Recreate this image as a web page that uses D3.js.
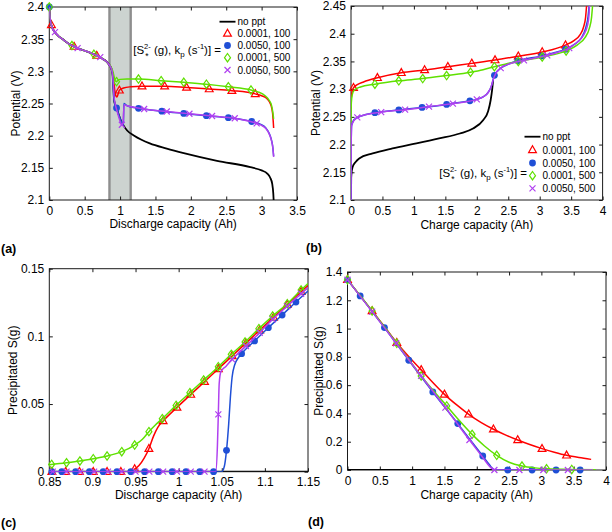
<!DOCTYPE html>
<html><head><meta charset="utf-8">
<script src="https://cdn.jsdelivr.net/npm/d3@7"></script>
<style>
body{margin:0;background:#fff}
text{font-family:"Liberation Sans",Arial,Helvetica,sans-serif;fill:#000}
</style>
</head><body>
<svg id="chart" width="612" height="532" xmlns="http://www.w3.org/2000/svg"></svg>
<script>
// ---------------- DATA ----------------
const legendLabels = ["no ppt", "0.0001, 100", "0.0050, 100", "0.0001, 500", "0.0050, 500"];
const seriesColors = ["#000000", "#ff0000", "#1f4fd6", "#5fe000", "#b040f0"];
const seriesShapes = [null, "tri", "dot", "dia", "x"];

// Panel (a) discharge potential
const aXTicks = [0, 0.5, 1, 1.5, 2, 2.5, 3, 3.5];
const aYTicks = [2.1, 2.15, 2.2, 2.25, 2.3, 2.35, 2.4];
const aBand = [0.85, 1.15];
const aStart = [[0,2.4],[0.005,2.39],[0.02,2.376],[0.05,2.366],[0.1,2.358],[0.2,2.349],[0.3,2.341],[0.4,2.336],[0.5,2.332],[0.6,2.328],[0.7,2.323],[0.76,2.319],[0.8,2.316],[0.84,2.311]];
const aBlackTail = [[0.86,2.308],[0.88,2.303],[0.895,2.294],[0.905,2.275],[0.915,2.256],[0.93,2.248],[0.95,2.243],[0.98,2.233],[1.01,2.224],[1.048,2.216],[1.1,2.208],[1.2,2.2],[1.42,2.188],[1.66,2.18],[1.9,2.173],[2.37,2.161],[2.84,2.151],[3.0,2.146],[3.08,2.141],[3.12,2.135],[3.15,2.125],[3.165,2.11],[3.17,2.1]];
const aRedTail = [[0.86,2.308],[0.88,2.303],[0.895,2.296],[0.91,2.285],[0.925,2.27],[0.94,2.262],[0.955,2.26],[0.97,2.264],[0.99,2.2705],[1.05,2.274],[1.15,2.276],[1.31,2.277],[1.63,2.277],[1.94,2.275],[2.26,2.2725],[2.58,2.27],[2.91,2.265],[3.0,2.262],[3.08,2.257],[3.13,2.248],[3.155,2.235],[3.17,2.212]];
const aBlueTail = [[0.86,2.308],[0.88,2.303],[0.895,2.294],[0.905,2.275],[0.915,2.256],[0.93,2.248],[0.95,2.243],[0.98,2.233],[1.01,2.224],[1.048,2.216],[1.053,2.25],[1.1,2.2465],[1.26,2.2425],[1.59,2.238],[1.9,2.2345],[2.22,2.231],[2.53,2.228],[2.86,2.222],[2.98,2.218],[3.06,2.212],[3.11,2.203],[3.14,2.193],[3.16,2.18],[3.17,2.168]];
const aGreenTail = [[0.86,2.309],[0.88,2.305],[0.9,2.299],[0.915,2.292],[0.93,2.286],[0.95,2.284],[0.97,2.2865],[1.0,2.2875],[1.1,2.288],[1.26,2.288],[1.58,2.2855],[1.9,2.283],[2.22,2.28],[2.53,2.276],[2.85,2.271],[2.95,2.268],[3.05,2.262],[3.1,2.256],[3.14,2.247],[3.16,2.235],[3.17,2.226]];
const aPurpleTail = [[0.86,2.308],[0.88,2.303],[0.895,2.295],[0.905,2.278],[0.915,2.26],[0.93,2.25],[0.96,2.237],[0.99,2.226],[1.025,2.217],[1.04,2.219],[1.05,2.235],[1.058,2.248],[1.1,2.2465],[1.34,2.2415],[1.66,2.2375],[1.98,2.234],[2.3,2.2305],[2.62,2.227],[2.93,2.219],[3.0,2.216],[3.06,2.211],[3.11,2.202],[3.14,2.192],[3.16,2.18],[3.17,2.167]];
const aRedMarks = [[0.03,2.372],[0.35,2.3385],[0.67,2.3245],[0.99,2.2705],[1.31,2.277],[1.63,2.277],[1.94,2.275],[2.26,2.2725],[2.58,2.27],[2.91,2.265]];
const aBlueMarks = [[0,2.4],[0.95,2.243],[1.26,2.2425],[1.59,2.238],[1.9,2.2345],[2.22,2.231],[2.53,2.228],[2.86,2.222]];
const aGreenMarks = [[0,2.4],[0.32,2.34],[0.63,2.3265],[0.95,2.284],[1.26,2.288],[1.58,2.2855],[1.9,2.283],[2.22,2.28],[2.53,2.276],[2.85,2.271]];
const aPurpleMarks = [[0.08,2.361],[0.4,2.336],[0.72,2.322],[1.025,2.217],[1.34,2.2415],[1.66,2.2375],[1.98,2.234],[2.3,2.2305],[2.62,2.227],[2.93,2.219]];

// Panel (b) charge potential
const bXTicks = [0, 0.5, 1, 1.5, 2, 2.5, 3, 3.5, 4];
const bYTicks = [2.1, 2.15, 2.2, 2.25, 2.3, 2.35, 2.4, 2.45];
const bBlack = [[0,2.1],[0.003,2.14],[0.01,2.15],[0.027,2.16],[0.07,2.168],[0.13,2.175],[0.345,2.184],[0.66,2.193],[1.04,2.202],[1.4,2.211],[1.73,2.22],[1.94,2.229],[2.1,2.244],[2.18,2.26],[2.22,2.28],[2.245,2.3],[2.26,2.317]];
const bRed = [[0,2.265],[0.005,2.285],[0.02,2.297],[0.04,2.3025],[0.1,2.308],[0.2,2.313],[0.42,2.3205],[0.8,2.3295],[1.17,2.3345],[1.54,2.3405],[1.92,2.3465],[2.29,2.3525],[2.66,2.3595],[3.04,2.367],[3.41,2.3795],[3.55,2.388],[3.64,2.398],[3.7,2.413],[3.73,2.43],[3.745,2.45]];
const bBlue = [[0,2.1],[0.003,2.2],[0.01,2.235],[0.05,2.245],[0.15,2.251],[0.38,2.2575],[0.76,2.2625],[1.13,2.267],[1.52,2.2725],[1.89,2.279],[2.0,2.2815],[2.1,2.286],[2.18,2.294],[2.23,2.305],[2.26,2.317],[2.28,2.325],[2.34,2.334],[2.47,2.3436],[2.65,2.351],[3.03,2.36],[3.2,2.365],[3.41,2.372],[3.55,2.381],[3.66,2.392],[3.73,2.41],[3.77,2.432],[3.785,2.45]];
const bGreen = [[0,2.24],[0.005,2.275],[0.02,2.29],[0.05,2.298],[0.15,2.304],[0.38,2.309],[0.76,2.315],[1.14,2.319],[1.52,2.3245],[1.9,2.3305],[2.1,2.335],[2.28,2.3405],[2.45,2.345],[2.66,2.35],[3.04,2.358],[3.42,2.369],[3.6,2.38],[3.72,2.393],[3.79,2.41],[3.825,2.43],[3.84,2.45]];
const bPurple = [[0,2.1],[0.003,2.2],[0.01,2.234],[0.05,2.244],[0.1,2.249],[0.2,2.253],[0.48,2.2585],[0.86,2.263],[1.24,2.2685],[1.62,2.274],[2.0,2.2815],[2.1,2.286],[2.18,2.294],[2.23,2.305],[2.26,2.317],[2.3,2.328],[2.38,2.338],[2.5,2.345],[2.75,2.352],[3.12,2.361],[3.3,2.367],[3.47,2.374],[3.6,2.385],[3.7,2.398],[3.76,2.415],[3.785,2.435],[3.79,2.45]];
const bRedMarks = [[0.04,2.3025],[0.42,2.3205],[0.8,2.3295],[1.17,2.3345],[1.54,2.3405],[1.92,2.3465],[2.29,2.3525],[2.66,2.3595],[3.04,2.367],[3.41,2.3795]];
const bBlueMarks = [[0.38,2.2575],[0.76,2.2625],[1.13,2.267],[1.52,2.2725],[1.89,2.279],[2.28,2.325],[2.65,2.351],[3.03,2.36],[3.41,2.372]];
const bGreenMarks = [[0.38,2.309],[0.76,2.315],[1.14,2.319],[1.52,2.3245],[1.9,2.3305],[2.28,2.3405],[2.66,2.35],[3.04,2.358],[3.42,2.369]];
const bPurpleMarks = [[0.1,2.249],[0.48,2.2585],[0.86,2.263],[1.24,2.2685],[1.62,2.274],[2.0,2.2815],[2.38,2.338],[2.75,2.352],[3.12,2.361],[3.47,2.374]];

// Panel (c) precipitated S during discharge
const cXTicks = [0.85, 0.9, 0.95, 1, 1.05, 1.1, 1.15];
const cYTicks = [0, 0.05, 0.1, 0.15];
const cBlack = [[0.85,0],[1.15,0]];
const cRed = [[0.85,0],[0.94,0],[0.948,0.0015],[0.954,0.0045],[0.96,0.01],[0.9655,0.017],[0.971,0.0265],[0.976,0.033],[0.982,0.0375],[0.998,0.0475],[1.014,0.057],[1.03,0.0665],[1.046,0.076],[1.062,0.0855],[1.078,0.095],[1.094,0.1045],[1.11,0.114],[1.126,0.1235],[1.142,0.133],[1.15,0.1375]];
const cBlue = [[0.85,0],[1.05,0],[1.053,0.004],[1.0555,0.0158],[1.058,0.035],[1.06,0.055],[1.062,0.07],[1.065,0.079],[1.069,0.084],[1.073,0.0872],[1.088,0.0966],[1.104,0.1064],[1.12,0.1158],[1.136,0.1254],[1.15,0.1335]];
const cGreen = [[0.85,0.0052],[0.87,0.0066],[0.8855,0.0079],[0.901,0.0096],[0.917,0.0116],[0.934,0.0148],[0.949,0.0197],[0.958,0.024],[0.9655,0.0296],[0.973,0.0345],[0.981,0.0392],[0.997,0.049],[1.013,0.0584],[1.029,0.0677],[1.046,0.0776],[1.061,0.0867],[1.077,0.0958],[1.093,0.1057],[1.109,0.115],[1.126,0.1241],[1.142,0.1342],[1.15,0.139]];
const cPurple = [[0.85,0],[1.043,0],[1.045,0.02],[1.046,0.0424],[1.047,0.065],[1.049,0.074],[1.055,0.078],[1.062,0.083],[1.078,0.0929],[1.094,0.1027],[1.109,0.1126],[1.126,0.1224],[1.142,0.1315],[1.15,0.136]];
const cRedMarks = [[0.853,0],[0.869,0],[0.885,0],[0.901,0],[0.917,0],[0.933,0],[0.949,0.002],[0.9655,0.017],[0.982,0.0375],[0.998,0.0475],[1.014,0.057],[1.03,0.0665],[1.046,0.076],[1.062,0.0855],[1.078,0.095],[1.094,0.1045],[1.11,0.114],[1.126,0.1235],[1.142,0.133]];
const cBlueMarks = [[0.853,0],[0.8645,0],[0.8805,0],[0.8965,0],[0.9125,0],[0.9285,0],[0.9445,0],[0.9605,0],[0.9765,0],[0.9925,0],[1.0085,0],[1.0245,0],[1.0405,0],[1.0555,0.0158],[1.073,0.0872],[1.088,0.0966],[1.104,0.1064],[1.12,0.1158],[1.136,0.1254]];
const cGreenMarks = [[0.8527,0.0054],[0.87,0.0066],[0.8855,0.0079],[0.901,0.0096],[0.917,0.0116],[0.934,0.0148],[0.949,0.0197],[0.9655,0.0296],[0.981,0.0392],[0.997,0.049],[1.013,0.0584],[1.029,0.0677],[1.046,0.0776],[1.061,0.0867],[1.077,0.0958],[1.093,0.1057],[1.109,0.115],[1.126,0.1241],[1.142,0.1342]];
const cPurpleMarks = [[0.854,0],[0.87,0],[0.886,0],[0.902,0],[0.918,0],[0.934,0],[0.95,0],[0.966,0],[0.982,0],[0.998,0],[1.014,0],[1.03,0],[1.046,0.0424],[1.062,0.083],[1.078,0.0929],[1.094,0.1027],[1.109,0.1126],[1.126,0.1224],[1.142,0.1315]];

// Panel (d) precipitated S during charge
const dXTicks = [0, 0.5, 1, 1.5, 2, 2.5, 3, 3.5, 4];
const dYTicks = [0, 0.2, 0.4, 0.6, 0.8, 1, 1.2, 1.4];
const dBlack = [[0,0],[3.8,0]];
const dRed = [[0,1.345],[0.19,1.235],[0.381,1.125],[0.57,1.015],[0.763,0.9],[0.95,0.8],[1.14,0.708],[1.32,0.618],[1.5,0.535],[1.69,0.46],[1.876,0.394],[2.07,0.335],[2.258,0.288],[2.45,0.247],[2.634,0.212],[2.82,0.18],[3.01,0.151],[3.2,0.126],[3.39,0.104],[3.58,0.088],[3.77,0.075]];
const dBlue = [[0,1.345],[0.196,1.231],[0.572,1.007],[0.948,0.776],[1.32,0.552],[1.706,0.328],[2.093,0.099],[2.2,0.035],[2.25,0.008],[2.3,0],[2.48,0],[2.856,0],[3.227,0],[3.6,0],[3.78,0]];
const dGreen = [[0,1.345],[0.381,1.125],[0.763,0.896],[1.14,0.665],[1.34,0.555],[1.536,0.453],[1.73,0.35],[1.928,0.252],[2.12,0.17],[2.309,0.104],[2.5,0.055],[2.7,0.028],[2.9,0.015],[3.08,0.009],[3.47,0.004],[3.84,0.002]];
const dPurple = [[0,1.345],[0.381,1.12],[0.753,0.896],[1.139,0.665],[1.515,0.441],[1.887,0.212],[2.1,0.085],[2.2,0.025],[2.25,0.004],[2.273,0],[2.66,0],[3.03,0],[3.41,0],[3.8,0]];
const dRedMarks = [[0,1.345],[0.381,1.125],[0.763,0.9],[1.14,0.708],[1.5,0.535],[1.876,0.394],[2.258,0.288],[2.634,0.212],[3.01,0.151],[3.39,0.104]];
const dBlueMarks = [[0,1.345],[0.196,1.231],[0.572,1.007],[0.948,0.776],[1.32,0.552],[1.706,0.328],[2.093,0.099],[2.48,0],[2.856,0],[3.227,0],[3.6,0]];
const dGreenMarks = [[0,1.345],[0.381,1.125],[0.763,0.896],[1.14,0.665],[1.536,0.453],[1.928,0.252],[2.309,0.104],[2.7,0.028],[3.08,0.009],[3.47,0.004]];
const dPurpleMarks = [[0,1.345],[0.381,1.12],[0.753,0.896],[1.139,0.665],[1.515,0.441],[1.887,0.212],[2.273,0],[2.66,0],[3.03,0],[3.41,0]];

// ---------------- DRAWING ----------------
const svg = d3.select("#chart");
svg.append("rect").attr("width",612).attr("height",532).attr("fill","#fff");
const fmt = d => String(+(+d).toFixed(4));

function marker(g, shape, color, px, py) {
  if (shape === "tri") {
    g.append("path").attr("d", `M${px},${py-4.2}L${px+3.9},${py+2.7}L${px-3.9},${py+2.7}Z`)
      .attr("fill","none").attr("stroke",color).attr("stroke-width",1.2);
  } else if (shape === "dot") {
    g.append("circle").attr("cx",px).attr("cy",py).attr("r",3.4).attr("fill",color);
  } else if (shape === "dia") {
    g.append("path").attr("d", `M${px},${py-4.2}L${px+3},${py}L${px},${py+4.2}L${px-3},${py}Z`)
      .attr("fill","none").attr("stroke",color).attr("stroke-width",1.2);
  } else if (shape === "x") {
    g.append("path").attr("d", `M${px-3},${py-3}L${px+3},${py+3}M${px+3},${py-3}L${px-3},${py+3}`)
      .attr("fill","none").attr("stroke",color).attr("stroke-width",1.2);
  }
}

function panel(p) {
  const x = d3.scaleLinear().domain(p.xDomain).range([p.left, p.right]);
  const y = d3.scaleLinear().domain(p.yDomain).range([p.bottom, p.top]);
  const g = svg.append("g");
  const clipId = "clip-" + p.id;
  svg.append("clipPath").attr("id", clipId).append("rect")
    .attr("x", p.left).attr("y", p.top).attr("width", p.right - p.left).attr("height", p.bottom - p.top);

  if (p.band) {
    g.append("rect").attr("x", x(p.band[0])).attr("y", p.top)
      .attr("width", x(p.band[1]) - x(p.band[0])).attr("height", p.bottom - p.top)
      .attr("fill", "#ccd3d0").attr("stroke", "none");
    p.band.forEach(b => g.append("line").attr("x1", x(b)).attr("x2", x(b)).attr("y1", p.top).attr("y2", p.bottom)
      .attr("stroke", "#8e8e8e").attr("stroke-width", 2.4));
  }

  g.append("rect").attr("x", p.left).attr("y", p.top).attr("width", p.right - p.left).attr("height", p.bottom - p.top)
    .attr("fill", "none").attr("stroke", "#1a1a1a").attr("stroke-width", 1);

  const ax = [
    {a: d3.axisBottom(x).tickValues(p.xTicks).tickFormat(fmt).tickPadding(6), t: `translate(0,${p.bottom})`},
    {a: d3.axisTop(x).tickValues(p.xTicks).tickFormat("").tickPadding(4), t: `translate(0,${p.top})`},
    {a: d3.axisLeft(y).tickValues(p.yTicks).tickFormat(fmt).tickPadding(5), t: `translate(${p.left},0)`},
    {a: d3.axisRight(y).tickValues(p.yTicks).tickFormat("").tickPadding(4), t: `translate(${p.right},0)`}
  ];
  ax.forEach(o => {
    const ag = g.append("g").attr("transform", o.t).call(o.a.tickSize(-3.5));
    ag.select(".domain").remove();
    ag.selectAll("line").attr("stroke", "#1a1a1a");
    ag.selectAll("text").attr("font-size", 12).attr("fill", "#000")
      .style("font-family", '"Liberation Sans", Arial, sans-serif');
  });

  const line = d3.line().x(d => x(d[0])).y(d => y(d[1])).curve(d3.curveMonotoneX);
  const sg = g.append("g");
  p.series.forEach(s => {
    sg.append("path").datum(s.line).attr("d", line).attr("fill", "none")
      .attr("stroke", seriesColors[s.k]).attr("stroke-width", s.k === 0 ? 1.8 : 1.5)
      .attr("clip-path", `url(#${clipId})`);
    if (s.marks) s.marks.forEach(m => marker(sg, seriesShapes[s.k], seriesColors[s.k], x(m[0]), y(m[1])));
  });

  svg.append("text").attr("x", (p.left + p.right) / 2).attr("y", p.bottom + p.xLabelGap)
    .attr("text-anchor", "middle").attr("font-size", 12).text(p.xLabel);
  svg.append("text").attr("transform", `translate(${p.yLabelX},${(p.top + p.bottom) / 2}) rotate(-90)`)
    .attr("text-anchor", "middle").attr("font-size", 12).text(p.yLabel);
  svg.append("text").attr("x", p.tagX).attr("y", p.tagY).attr("font-size", 12.5)
    .attr("font-weight", "bold").text(p.tag);
}

// pieces of the legend title "[S2-*(g), kp (s-1)] ="
const bracketParts = [
  {t: "[S", size: 11.5, dy: 0},
  {t: "2-", size: 7.5, dy: -5, stackBase: true},
  {t: "*", size: 8.5, dy: 4.5, stacked: true},
  {t: "\u00a0(g), k", size: 11.5, dy: 0},
  {t: "p", size: 8, dy: 3},
  {t: "\u00a0(s", size: 11.5, dy: 0},
  {t: "-1", size: 7.5, dy: -5},
  {t: ")]\u00a0=", size: 11.5, dy: 0}
];

function legend(lx, rows, bracketEnd, bracketY) {
  const g = svg.append("g");
  rows.forEach((ry, i) => {
    if (i === 0) {
      g.append("line").attr("x1", lx - 8).attr("x2", lx + 8).attr("y1", ry).attr("y2", ry)
        .attr("stroke", "#000").attr("stroke-width", 1.8);
    } else {
      marker(g, seriesShapes[i], seriesColors[i], lx, ry);
    }
    g.append("text").attr("x", lx + 10).attr("y", ry + 3.6).attr("font-size", 10).text(legendLabels[i]);
  });
  // measure each piece
  const tmp = g.append("text").attr("x", 0).attr("y", -100);
  let cx = 0, stackStart = 0, stackW = 0;
  const placed = [];
  bracketParts.forEach(pt => {
    tmp.attr("font-size", pt.size).text(pt.t);
    const w = tmp.node().getComputedTextLength();
    if (pt.stacked) {
      placed.push({pt, x: stackStart + (stackW - w) / 2 - 0.5});
      cx = stackStart + Math.max(stackW, w);
    } else {
      if (pt.stackBase) { stackStart = cx; stackW = w; }
      placed.push({pt, x: cx});
      cx += w;
    }
  });
  tmp.remove();
  const x0 = bracketEnd - cx;
  const t = g.append("text").attr("x", x0).attr("y", bracketY);
  placed.forEach(o => {
    t.append("tspan").attr("x", x0 + o.x).attr("y", bracketY + o.pt.dy)
      .attr("font-size", o.pt.size).text(o.pt.t);
  });
}

panel({id: "a", left: 49.3, right: 297, top: 7, bottom: 200,
  xDomain: [0, 3.5], yDomain: [2.1, 2.4], xTicks: aXTicks, yTicks: aYTicks, band: aBand,
  xLabel: "Discharge capacity (Ah)", xLabelGap: 28, yLabel: "Potential (V)", yLabelX: 20,
  tag: "(a)", tagX: 1, tagY: 253,
  series: [
    {k: 0, line: aStart.concat(aBlackTail)},
    {k: 1, line: aStart.concat(aRedTail), marks: aRedMarks},
    {k: 2, line: aStart.concat(aBlueTail), marks: aBlueMarks},
    {k: 3, line: aStart.concat(aGreenTail), marks: aGreenMarks},
    {k: 4, line: aStart.concat(aPurpleTail), marks: aPurpleMarks}
  ]});

panel({id: "b", left: 351, right: 602.6, top: 6, bottom: 200,
  xDomain: [0, 4], yDomain: [2.1, 2.45], xTicks: bXTicks, yTicks: bYTicks,
  xLabel: "Charge capacity (Ah)", xLabelGap: 29, yLabel: "Potential (V)", yLabelX: 320,
  tag: "(b)", tagX: 306, tagY: 252,
  series: [
    {k: 0, line: bBlack},
    {k: 1, line: bRed, marks: bRedMarks},
    {k: 2, line: bBlue, marks: bBlueMarks},
    {k: 3, line: bGreen, marks: bGreenMarks},
    {k: 4, line: bPurple, marks: bPurpleMarks}
  ]});

panel({id: "c", left: 49.3, right: 308, top: 268.7, bottom: 471.7,
  xDomain: [0.85, 1.15], yDomain: [0, 0.15], xTicks: cXTicks, yTicks: cYTicks,
  xLabel: "Discharge capacity (Ah)", xLabelGap: 27, yLabel: "Precipitated S(g)", yLabelX: 17,
  tag: "(c)", tagX: 1, tagY: 527,
  series: [
    {k: 0, line: cBlack},
    {k: 1, line: cRed, marks: cRedMarks},
    {k: 2, line: cBlue, marks: cBlueMarks},
    {k: 3, line: cGreen, marks: cGreenMarks},
    {k: 4, line: cPurple, marks: cPurpleMarks}
  ]});

panel({id: "d", left: 347.5, right: 606, top: 272, bottom: 470,
  xDomain: [0, 4], yDomain: [0, 1.4], xTicks: dXTicks, yTicks: dYTicks,
  xLabel: "Charge capacity (Ah)", xLabelGap: 29, yLabel: "Precipitated S(g)", yLabelX: 323,
  tag: "(d)", tagX: 308, tagY: 526,
  series: [
    {k: 0, line: dBlack},
    {k: 1, line: dRed, marks: dRedMarks},
    {k: 2, line: dBlue, marks: dBlueMarks},
    {k: 3, line: dGreen, marks: dGreenMarks},
    {k: 4, line: dPurple, marks: dPurpleMarks}
  ]});

legend(227.5, [21.7, 33.5, 45.5, 57.7, 70], 221, 54);
legend(532.5, [136.7, 150, 163, 175.7, 188.3], 527, 177);
</script>
</body></html>
